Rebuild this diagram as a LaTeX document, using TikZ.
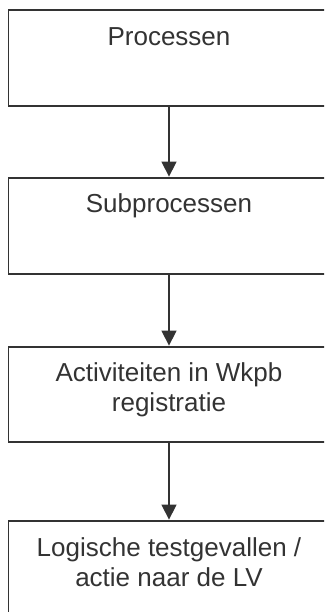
\documentclass[tikz,border=0pt]{standalone}
\usepackage{fontspec}
\setmainfont{Liberation Sans}
\usetikzlibrary{arrows.meta}
\definecolor{ink}{HTML}{333333}
\tikzset{
  box/.style={draw=ink, line width=1.4pt, rectangle, minimum width=321pt, inner sep=0pt},
  txt/.style={text=ink, font=\fontsize{26pt}{30pt}\selectfont, align=center, inner sep=0pt, anchor=base},
  conn/.style={draw=ink, line width=1.4pt, -{Triangle[length=15pt,width=15pt]}, shorten >=0.7pt}
}
\begin{document}
\begin{tikzpicture}[x=1pt,y=1pt]
\useasboundingbox (0,0) rectangle (324,-612);
\clip (0,0) rectangle (324,-612);
\node[box, minimum height=96pt] (b1) at (169,-58) {};
\node[box, minimum height=96pt] (b2) at (169,-226) {};
\node[box, minimum height=95pt] (b3) at (169,-394.5) {};
\node[box, minimum height=120pt] (b4) at (169,-581) {};
\node[txt] (t1) at ([yshift=-36pt]b1.north) {Processen};
\node[txt] (t2) at ([yshift=-35pt]b2.north) {Subprocessen};
\node[txt] (t3) at ([yshift=-65pt]b3.north) {Activiteiten in Wkpb\\registratie};
\node[txt] (t4) at ([yshift=-66pt]b4.north) {Logische testgevallen /\\actie naar de LV};
\draw[conn] (b1.south) -- (b2.north);
\draw[conn] (b2.south) -- (b3.north);
\draw[conn] (b3.south) -- (b4.north);
\end{tikzpicture}
\end{document}
